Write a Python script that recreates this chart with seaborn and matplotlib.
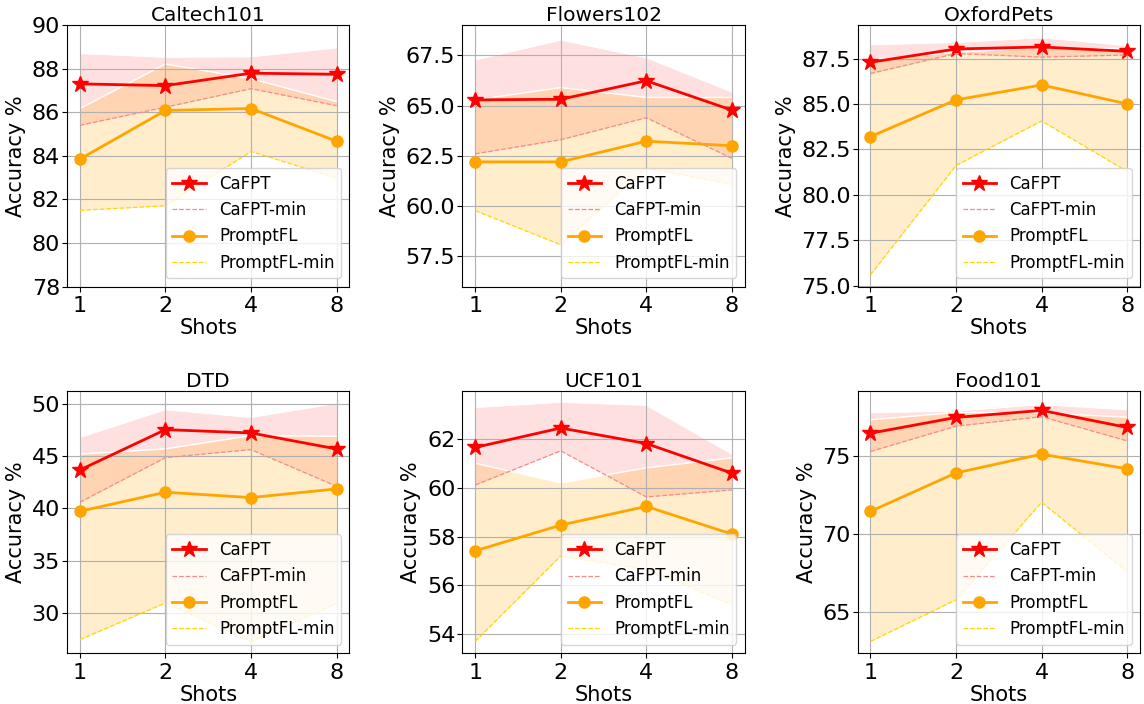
import matplotlib
matplotlib.use("Agg")
import matplotlib.pyplot as plt
import seaborn as sns
import numpy as np

# Few-shot accuracy of CaFPT vs PromptFL (mean, min and max over clients)
shots = [1, 2, 4, 8]
datasets = ["Caltech101", "Flowers102", "OxfordPets", "DTD", "UCF101", "Food101"]

caltech_cafpt = [87.30, 87.22, 87.79, 87.74]
caltech_cafpt_min = [85.40, 86.23, 87.08, 86.30]
caltech_cafpt_max = [88.70, 88.53, 88.55, 88.96]
caltech_promptfl = [83.85, 86.08, 86.17, 84.67]
caltech_promptfl_min = [81.50, 81.71, 84.20, 82.98]
caltech_promptfl_max = [86.17, 88.21, 87.54, 86.49]

flowers_cafpt = [65.28, 65.31, 66.23, 64.77]
flowers_cafpt_min = [62.60, 63.30, 64.39, 62.38]
flowers_cafpt_max = [67.27, 68.26, 67.38, 65.68]
flowers_promptfl = [62.20, 62.20, 63.23, 63.00]
flowers_promptfl_min = [59.78, 58.08, 61.90, 61.09]
flowers_promptfl_max = [65.28, 65.89, 65.40, 65.40]

pets_cafpt = [87.30, 88.03, 88.14, 87.90]
pets_cafpt_min = [86.68, 87.78, 87.58, 87.70]
pets_cafpt_max = [88.27, 88.40, 88.66, 88.22]
pets_promptfl = [83.21, 85.23, 86.05, 85.01]
pets_promptfl_min = [75.60, 81.62, 84.07, 81.29]
pets_promptfl_max = [87.45, 87.85, 88.10, 88.05]

dtd_cafpt = [43.68, 47.54, 47.22, 45.69]
dtd_cafpt_min = [40.59, 44.86, 45.63, 42.12]
dtd_cafpt_max = [46.81, 49.46, 48.72, 50.06]
dtd_promptfl = [39.73, 41.55, 41.04, 41.87]
dtd_promptfl_min = [27.45, 30.96, 27.30, 30.90]
dtd_promptfl_max = [45.20, 45.70, 46.97, 46.90]

ucf_cafpt = [61.67, 62.47, 61.83, 60.61]
ucf_cafpt_min = [60.12, 61.53, 59.63, 59.92]
ucf_cafpt_max = [63.32, 63.54, 63.41, 61.40]
ucf_promptfl = [57.41, 58.47, 59.24, 58.10]
ucf_promptfl_min = [53.68, 57.20, 56.65, 55.20]
ucf_promptfl_max = [61.02, 60.21, 60.83, 61.24]

food_cafpt = [76.47, 77.48, 77.93, 76.84]
food_cafpt_min = [75.30, 76.92, 77.53, 75.98]
food_cafpt_max = [77.80, 77.90, 78.32, 77.98]
food_promptfl = [71.47, 73.93, 75.13, 74.19]
food_promptfl_min = [63.14, 65.81, 72.05, 67.60]
food_promptfl_max = [77.33, 77.80, 77.76, 77.50]

panels = [
    (caltech_cafpt, caltech_cafpt_min, caltech_cafpt_max,
     caltech_promptfl, caltech_promptfl_min, caltech_promptfl_max),
    (flowers_cafpt, flowers_cafpt_min, flowers_cafpt_max,
     flowers_promptfl, flowers_promptfl_min, flowers_promptfl_max),
    (pets_cafpt, pets_cafpt_min, pets_cafpt_max,
     pets_promptfl, pets_promptfl_min, pets_promptfl_max),
    (dtd_cafpt, dtd_cafpt_min, dtd_cafpt_max,
     dtd_promptfl, dtd_promptfl_min, dtd_promptfl_max),
    (ucf_cafpt, ucf_cafpt_min, ucf_cafpt_max,
     ucf_promptfl, ucf_promptfl_min, ucf_promptfl_max),
    (food_cafpt, food_cafpt_min, food_cafpt_max,
     food_promptfl, food_promptfl_min, food_promptfl_max),
]

# y ranges and tick steps per panel
ylims = [(78, 90), (56, 69), (74.95, 89.35), (26.17, 51.2), (53.2, 63.98), (62.4, 79.15)]
ytick_steps = [2, 2.5, 2.5, 5, 2, 5]

plt.rcParams["font.family"] = ["DejaVu Sans"]

fig, axes = plt.subplots(2, 3, figsize=(11.44, 7.04), dpi=100)
fig.subplots_adjust(left=0.0586, right=0.9965, top=0.9645, bottom=0.0724,
                    wspace=0.40, hspace=0.40)

xpos = np.arange(len(shots))

for i, ax in enumerate(axes.flat):
    c, cmin, cmax, p, pmin, pmax = panels[i]

    ax.fill_between(xpos, cmin, cmax, color="red", alpha=0.12, linewidth=0, zorder=1)
    ax.fill_between(xpos, pmin, pmax, color="orange", alpha=0.2, linewidth=0, zorder=1)
    ax.plot(xpos, cmax, color="white", lw=1.0, zorder=1.2)
    ax.plot(xpos, pmax, color="white", lw=1.0, zorder=1.2)

    sns.lineplot(x=xpos, y=c, ax=ax, color="red", lw=2, marker="*",
                 markersize=12, markeredgecolor="red", markeredgewidth=1,
                 label="CaFPT")
    sns.lineplot(x=xpos, y=cmin, ax=ax, color="#f58a8a", lw=0.9,
                 linestyle="--", label="CaFPT-min")
    sns.lineplot(x=xpos, y=p, ax=ax, color="orange", lw=2, marker="o",
                 markersize=8, markeredgecolor="orange", markeredgewidth=1,
                 label="PromptFL")
    sns.lineplot(x=xpos, y=pmin, ax=ax, color="gold", lw=0.9,
                 linestyle="--", label="PromptFL-min")

    ax.set_xticks(xpos)
    ax.set_xticklabels([str(s) for s in shots])
    ax.set_xlim(-0.15, 3.15)
    lo, hi = ylims[i]
    ax.set_ylim(lo, hi)
    ax.yaxis.set_major_locator(matplotlib.ticker.MultipleLocator(ytick_steps[i]))
    ax.grid(True, color="#b0b0b0", linewidth=0.8, zorder=1.5)
    ax.set_axisbelow("line")
    ax.tick_params(labelsize=16)
    ax.tick_params(axis="y", pad=1.5)
    ax.set_xlabel("Shots", fontsize=15, labelpad=1.5)
    ax.set_ylabel("Accuracy %", fontsize=15)
    ax.set_title(datasets[i], fontsize=14.5, pad=0.5)
    ax.legend(loc="lower right", fontsize=12)
    for sp in ax.spines.values():
        sp.set_color("black")

fig.savefig("out.png", dpi=100)
